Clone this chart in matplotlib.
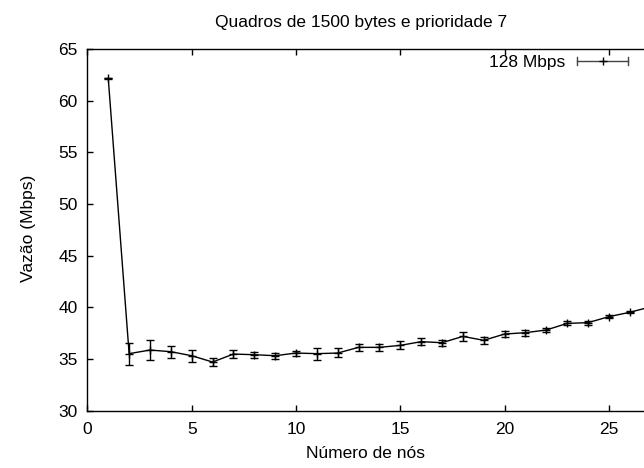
import matplotlib
matplotlib.use("Agg")
import matplotlib.pyplot as plt
from matplotlib.legend_handler import HandlerBase
from matplotlib.lines import Line2D

plt.rcParams['font.family'] = ['Liberation Sans', 'DejaVu Sans']

# Throughput per number of nodes (mean with error bounds)
nodes = [1, 2, 3, 4, 5, 6, 7, 8, 9, 10, 11, 12, 13, 14, 15, 16, 17, 18, 19,
         20, 21, 22, 23, 24, 25, 26, 27]
vazao = [62.15, 35.52, 35.87, 35.71, 35.32, 34.71, 35.48, 35.42, 35.32, 35.58,
         35.52, 35.58, 36.13, 36.13, 36.32, 36.68, 36.58, 37.19, 36.81, 37.42,
         37.55, 37.81, 38.45, 38.52, 39.10, 39.52, 40.05]
erro_sup = [0.05, 1.00, 0.97, 0.58, 0.52, 0.42, 0.39, 0.26, 0.26, 0.23,
            0.51, 0.45, 0.29, 0.35, 0.39, 0.32, 0.29, 0.46, 0.35, 0.29,
            0.26, 0.22, 0.20, 0.16, 0.16, 0.10, 0.10]
erro_inf = [0.05, 1.07, 0.97, 0.58, 0.58, 0.42, 0.35, 0.29, 0.32, 0.29,
            0.58, 0.42, 0.32, 0.32, 0.35, 0.36, 0.32, 0.45, 0.36, 0.32,
            0.29, 0.23, 0.19, 0.20, 0.16, 0.10, 0.10]
xticks = [0, 5, 10, 15, 20, 25]
yticks = [30, 35, 40, 45, 50, 55, 60, 65]
serie = "128 Mbps"
titulo = "Quadros de 1500 bytes e prioridade 7"
rotulo_x = "Número de nós"
rotulo_y = "Vazão (Mbps)"

FS = 12.5
W, H = 644, 468
fig = plt.figure(figsize=(W / 100, H / 100), dpi=100)
ax = fig.add_axes([87.4 / W, 1 - 410.7 / H, 625.8 / W, 361.7 / H])

ax.errorbar(nodes, vazao, yerr=[erro_inf, erro_sup], color='black', lw=1.0,
            marker='+', markersize=6, markeredgewidth=1.0,
            ecolor='black', elinewidth=1.0, capsize=3, capthick=1.0,
            label=serie)

ax.set_xlim(0, 30)
ax.set_ylim(30, 65)
ax.set_xticks(xticks)
ax.set_yticks(yticks)
ax.tick_params(direction='in', length=4.5, width=1.0, top=True, right=True,
               labelsize=FS)
ax.tick_params(axis='x', pad=8)
ax.tick_params(axis='y', pad=7)
for s in ax.spines.values():
    s.set_linewidth(1.0)


class ErrorKeyHandler(HandlerBase):
    """Horizontal key sample with end caps and a centred '+' marker."""

    def create_artists(self, legend, orig_handle, xdescent, ydescent,
                       width, height, fontsize, trans):
        y = height / 2 - ydescent
        x0, x1 = -xdescent, width - xdescent
        cap = 3.0
        artists = [
            Line2D([x0, x1], [y, y], color='#444444', lw=1.0),
            Line2D([x0, x0], [y - cap, y + cap], color='#444444', lw=1.0),
            Line2D([x1, x1], [y - cap, y + cap], color='#444444', lw=1.0),
            Line2D([(x0 + x1) / 2], [y], marker='+', markersize=6,
                   markeredgewidth=1.0, color='black', lw=0),
        ]
        for a in artists:
            a.set_transform(trans)
        return artists


handles, labels = ax.get_legend_handles_labels()
ax.legend(handles, labels, handler_map={type(handles[0]): ErrorKeyHandler()},
          loc='upper right', bbox_to_anchor=(628 / W, 1 - 55 / H),
          bbox_transform=fig.transFigure, frameon=False, fontsize=FS,
          markerfirst=False, handlelength=51 / (FS * 100 / 72),
          handletextpad=12 / (FS * 100 / 72),
          borderpad=0, borderaxespad=0)

fig.text(361 / W, 1 - 22 / H, titulo, ha='center', va='center', fontsize=FS)
fig.text(365 / W, 1 - 453 / H, rotulo_x, ha='center', va='center', fontsize=FS)
fig.text(28 / W, 1 - 228 / H, rotulo_y, ha='center', va='center',
         rotation=90, fontsize=FS)

fig.savefig("out.png", dpi=100)
